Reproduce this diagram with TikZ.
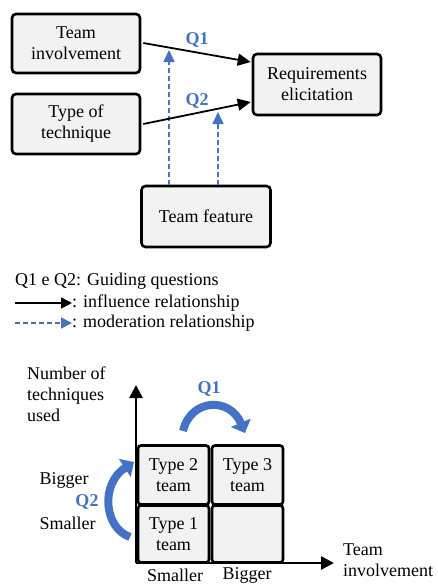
\documentclass[tikz,border=0pt]{standalone}
\usepackage{fontspec}
\setmainfont{LiberationSerif}[Extension=.ttf, UprightFont=*-Regular, BoldFont=*-Bold, ItalicFont=*-Italic, BoldItalicFont=*-BoldItalic]
\usetikzlibrary{arrows.meta,calc}
\definecolor{qblue}{HTML}{4472C4}
\definecolor{boxfill}{HTML}{F2F2F2}
\begin{document}
\begin{tikzpicture}[x=1pt,y=-1pt,
  font=\fontsize{18}{21}\selectfont,
  box/.style={draw, line width=2.6pt, rounded corners=4pt, fill=boxfill, align=center, inner sep=0pt},
  cell/.style={draw, line width=2.6pt, rounded corners=3pt, fill=boxfill, align=center, inner sep=0pt, minimum width=71pt},
  infl/.style={line width=1.8pt, -{Triangle[length=13pt,width=12pt]}},
  moder/.style={qblue, line width=1.6pt, dash pattern=on 5pt off 3pt, -{Triangle[length=12pt,width=11pt]}},
  qlab/.style={text=qblue, font=\fontsize{18}{21}\selectfont\bfseries},
  axisline/.style={line width=2.6pt, -{Triangle[length=13pt,width=13pt]}},
  bigarrow/.style={qblue, line width=8pt, -{Triangle[length=11pt,width=21pt]}},
  plain/.style={inner sep=0pt}
]
\useasboundingbox (0,0) rectangle (437,584);

% --- top diagram ---
\node[box, minimum width=128pt, minimum height=59pt] (ti) at (76,43.5) {Team\\involvement};
\node[box, minimum width=128pt, minimum height=60pt] (tt) at (76,124) {Type of\\technique};
\node[box, minimum width=128pt, minimum height=61pt] (re) at (317,84.5) {Requirements\\elicitation};
\node[box, minimum width=129pt, minimum height=61pt] (tf) at (206,216.5) {Team feature};

\coordinate (m1) at (169,50);
\coordinate (m2) at (218,112);

\draw[moder] ($(tf.north)+(-37,0)$) -- (m1);
\draw[moder] ($(tf.north)+(12,0)$) -- (m2);

\draw[infl] ($(ti.east)+(2,-0.5)$) -- ($(re.west)+(-1,-22.5)$);
\draw[infl] ($(tt.east)+(2,0)$) -- ($(re.west)+(-1,17.5)$);

\node[qlab] (q1) at (197,40) {Q1};
\node[qlab] (q2) at (197,101) {Q2};

% --- legend ---
\node[plain, anchor=west] (lg1) at (15,281) {Q1 e Q2: Guiding questions};
\coordinate (la) at (15,303);
\node[plain, anchor=west] (lg2) at (72,303) {: influence relationship};
\draw[line width=1.8pt, -{Triangle[length=11pt,width=11pt]}] (la) -- (lg2.west);
\coordinate (lb) at (15,323);
\node[plain, anchor=west] (lg3) at (72,323) {: moderation relationship};
\draw[qblue, line width=1.6pt, dash pattern=on 5pt off 3pt, -{Triangle[length=11pt,width=11pt]}] (lb) -- (lg3.west);

% --- bottom chart ---
\coordinate (o) at (136,563);
\coordinate (ytop) at (136,385);
\coordinate (xend) at (334,563);
\draw[axisline] (o) -- (ytop);
\draw[axisline] (o) -- (xend);

\node[cell, minimum height=59pt] (c2) at (173.5,475) {Type 2\\team};
\node[cell, minimum height=59pt] (c3) at (247.5,475) {Type 3\\team};
\node[cell, minimum height=57pt] (c1) at (173.5,534) {Type 1\\team};
\node[cell, minimum height=57pt] (c4) at (247.5,534) {};

\node[plain, anchor=north west, align=left] (yl) at (27,367) {Number of\\techniques\\used};
\node[plain, anchor=west, align=left] (xl) at (343,560) {Team\\involvement};

\node[plain] (bg) at (64,480) {Bigger};
\node[plain] (sm) at (67.5,523) {Smaller};
\node[plain] (sm2) at (175,575) {Smaller};
\node[plain] (bg2) at (247,575) {Bigger};

\node[qlab] (q1b) at (209,389) {Q1};
\node[qlab] (q2b) at (87,502) {Q2};

\draw[bigarrow] (183,431) .. controls (191,398) and (230,397) .. (245,433);
\draw[bigarrow] (130,537) .. controls (104,528) and (100,484) .. (134,462);
\end{tikzpicture}
\end{document}
